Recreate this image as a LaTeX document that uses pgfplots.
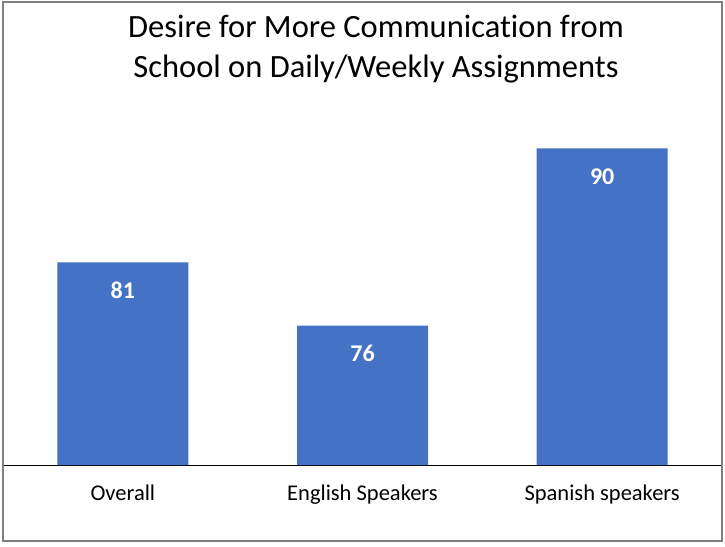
\documentclass[border=0pt]{standalone}
\usepackage{pgfplots}
\pgfplotsset{compat=1.18}
\usetikzlibrary{calc}
\usepackage{fontspec}
\setmainfont[Ligatures={NoCommon}]{Carlito}
\definecolor{barblue}{RGB}{68,114,196}
\definecolor{framegray}{RGB}{128,128,128}
\begin{document}
\begin{tikzpicture}[x=1pt,y=1pt]
\begin{axis}[
  name=ax,
  scale only axis, width=719pt, height=380pt,
  xmin=-0.5, xmax=2.5, ymin=65, ymax=95,
  ybar, bar width=131pt,
  axis x line=bottom, axis y line=none,
  x axis line style={-, line width=1pt, black},
  xtick=data, xticklabels={Overall, English Speakers, Spanish speakers},
  major tick length=0pt,
  xticklabel style={font=\fontsize{22.5}{27}\selectfont, yshift=-16pt},
  nodes near coords,
  every node near coord/.append style={font=\bfseries\fontsize{24}{28}\selectfont, white, anchor=center, yshift=-28pt},
  /pgf/number format/assume math mode=true,
  clip=false,
]
\addplot[fill=barblue, draw=none] coordinates {(0,81) (1,76) (2,90)};
\coordinate (bl) at (rel axis cs:0,0);
\end{axis}
\pgfresetboundingbox
\useasboundingbox ($(bl)+(-3,-81)$) rectangle ($(bl)+(722,465)$);
\draw[framegray,line width=1.2pt] ($(bl)+(0,-76)$) rectangle ($(bl)+(719,463)$);
\node[font=\fontsize{32.5}{40}\selectfont,align=center,anchor=center] at ($(bl)+(373,416)$) {Desire for More Communication from\\School on Daily/Weekly Assignments};
\end{tikzpicture}
\end{document}
